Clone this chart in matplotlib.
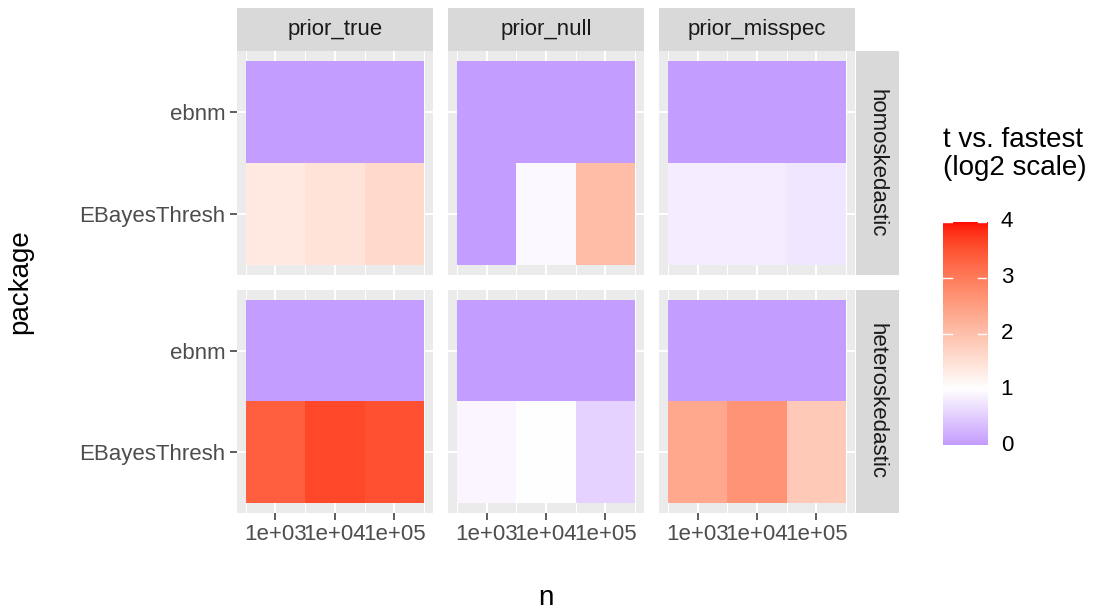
import numpy as np
import matplotlib
matplotlib.use("Agg")
import matplotlib.pyplot as plt
from matplotlib.colors import ListedColormap, Normalize, to_rgb

# ---------------- data ----------------
priors = ["prior_true", "prior_null", "prior_misspec"]
noise_types = ["homoskedastic", "heteroskedastic"]
packages = ["EBayesThresh", "ebnm"]          # bottom to top
n_log10 = [3, 4, 5]
n_labels = ["1e+03", "1e+04", "1e+05"]

# t vs. fastest (log2 scale), one list per facet, order by n
ebnm_homo_true = [0.0, 0.0, 0.0]
ebnm_homo_null = [0.0, 0.0, 0.0]
ebnm_homo_misspec = [0.0, 0.0, 0.0]
ebnm_hetero_true = [0.0, 0.0, 0.0]
ebnm_hetero_null = [0.0, 0.0, 0.0]
ebnm_hetero_misspec = [0.0, 0.0, 0.0]

ebt_homo_true = [1.35, 1.45, 1.6]
ebt_homo_null = [0.0, 0.93, 2.05]
ebt_homo_misspec = [0.82, 0.80, 0.75]
ebt_hetero_true = [3.35, 3.6, 3.5]
ebt_hetero_null = [0.9, 0.99, 0.55]
ebt_hetero_misspec = [2.35, 2.65, 1.85]

legend_ticks = [0, 1, 2, 3, 4]

facet_data = {
    ("homoskedastic", "prior_true"): (ebt_homo_true, ebnm_homo_true),
    ("homoskedastic", "prior_null"): (ebt_homo_null, ebnm_homo_null),
    ("homoskedastic", "prior_misspec"): (ebt_homo_misspec, ebnm_homo_misspec),
    ("heteroskedastic", "prior_true"): (ebt_hetero_true, ebnm_hetero_true),
    ("heteroskedastic", "prior_null"): (ebt_hetero_null, ebnm_hetero_null),
    ("heteroskedastic", "prior_misspec"): (ebt_hetero_misspec, ebnm_hetero_misspec),
}

# ---------------- colour scale (Lab interpolation like ggplot) ----------------
def srgb_to_lab(rgb):
    rgb = np.asarray(rgb, float)
    lin = np.where(rgb <= 0.04045, rgb / 12.92, ((rgb + 0.055) / 1.055) ** 2.4)
    M = np.array([[0.4124564, 0.3575761, 0.1804375],
                  [0.2126729, 0.7151522, 0.0721750],
                  [0.0193339, 0.1191920, 0.9503041]])
    xyz = lin @ M.T
    wp = np.array([0.95047, 1.0, 1.08883])
    t = xyz / wp
    f = np.where(t > (6 / 29) ** 3, np.cbrt(t), t / (3 * (6 / 29) ** 2) + 4 / 29)
    L = 116 * f[..., 1] - 16
    a = 500 * (f[..., 0] - f[..., 1])
    b = 200 * (f[..., 1] - f[..., 2])
    return np.stack([L, a, b], -1)

def lab_to_srgb(lab):
    lab = np.asarray(lab, float)
    fy = (lab[..., 0] + 16) / 116
    fx = fy + lab[..., 1] / 500
    fz = fy - lab[..., 2] / 200
    f = np.stack([fx, fy, fz], -1)
    d = 6 / 29
    t = np.where(f > d, f ** 3, 3 * d * d * (f - 4 / 29))
    xyz = t * np.array([0.95047, 1.0, 1.08883])
    Minv = np.array([[3.2404542, -1.5371385, -0.4985314],
                     [-0.9692660, 1.8760108, 0.0415560],
                     [0.0556434, -0.2040259, 1.0572252]])
    lin = xyz @ Minv.T
    lin = np.clip(lin, 0, 1)
    rgb = np.where(lin <= 0.0031308, 12.92 * lin, 1.055 * lin ** (1 / 2.4) - 0.055)
    return np.clip(rgb, 0, 1)

vmin, vmid, vmax = 0.0, 1.0, 4.0
c_low = srgb_to_lab(to_rgb("#C39DFF"))
c_mid = srgb_to_lab(to_rgb("#FFFFFF"))
c_high = srgb_to_lab(to_rgb("#FF0000"))
vals = np.linspace(vmin, vmax, 512)
labs = []
for v in vals:
    if v <= vmid:
        t = (v - vmin) / (vmid - vmin)
        labs.append(c_low + (c_mid - c_low) * t)
    else:
        t = (v - vmid) / (vmax - vmid)
        labs.append(c_mid + (c_high - c_mid) * t)
cmap = ListedColormap(lab_to_srgb(np.array(labs)))
norm = Normalize(vmin=vmin, vmax=vmax)

# ---------------- layout ----------------
W, H = 1097, 613
fig = plt.figure(figsize=(W / 100, H / 100), dpi=100)
fig.patch.set_facecolor("white")
plt.rcParams["font.family"] = ["Liberation Sans", "DejaVu Sans"]

def rect(x0, y0, x1, y1):
    return [x0 / W, 1 - y1 / H, (x1 - x0) / W, (y1 - y0) / H]

col_x = [(236.7, 433), (448, 644), (659, 855)]
row_y = [(51, 275), (290, 513)]
strip_top = (8, 51)
strip_right = (855.5, 899)

tick_col = "#333333"
for r, noise in enumerate(noise_types):
    for c, prior in enumerate(priors):
        x0, x1 = col_x[c]
        y0, y1 = row_y[r]
        ax = fig.add_axes(rect(x0, y0, x1, y1))
        ax.set_facecolor("#EBEBEB")
        ebt, eb = facet_data[(noise, prior)]
        Z = np.array([ebt, eb])
        xe = np.array(n_log10, float)
        xedges = np.concatenate([xe - 0.5, [xe[-1] + 0.5]])
        yedges = np.arange(len(packages) + 1) + 0.5
        ax.pcolormesh(xedges, yedges, Z, cmap=cmap, norm=norm, zorder=2,
                      edgecolors="face", linewidth=0)
        for xv in [2.5, 3.5, 4.5, 5.5]:
            ax.axvline(xv, color="white", lw=0.75, zorder=1)
        for xv in n_log10:
            ax.axvline(xv, color="white", lw=1.5, zorder=1)
        for yv in [1, 2]:
            ax.axhline(yv, color="white", lw=1.5, zorder=1)
        ax.set_xlim(2.35, 5.65)
        ax.set_ylim(0.4, 2.6)
        for s in ax.spines.values():
            s.set_visible(False)
        ax.set_xticks(n_log10)
        ax.set_yticks([1, 2])
        if r == len(noise_types) - 1:
            ax.set_xticklabels(n_labels, fontsize=16, color="#4D4D4D")
            ax.tick_params(axis="x", length=5, width=1.1, color=tick_col, pad=3)
        else:
            ax.set_xticklabels([])
            ax.tick_params(axis="x", length=0)
        if c == 0:
            ax.set_yticklabels(packages, fontsize=16, color="#4D4D4D")
            ax.tick_params(axis="y", length=5, width=1.1, color=tick_col, pad=3)
        else:
            ax.set_yticklabels([])
            ax.tick_params(axis="y", length=0)

        if r == 0:
            sax = fig.add_axes(rect(x0, strip_top[0], x1, strip_top[1]))
            sax.set_facecolor("#D9D9D9")
            sax.set_xticks([]); sax.set_yticks([])
            for s in sax.spines.values():
                s.set_visible(False)
            sax.text(0.5, 0.5, prior, ha="center", va="center", fontsize=16,
                     color="#1A1A1A", transform=sax.transAxes)
    y0, y1 = row_y[r]
    sax = fig.add_axes(rect(strip_right[0], y0, strip_right[1], y1))
    sax.set_facecolor("#D9D9D9")
    sax.set_xticks([]); sax.set_yticks([])
    for s in sax.spines.values():
        s.set_visible(False)
    sax.text(0.5, 0.5, noise, ha="center", va="center", fontsize=16,
             color="#1A1A1A", rotation=-90, transform=sax.transAxes)

# axis titles
fig.text(546 / W, 1 - 598 / H, "n", ha="center", va="center", fontsize=20)
fig.text(20 / W, 1 - 282 / H, "package", ha="center", va="center",
         fontsize=20, rotation=90)

# legend
fig.text(943 / W, 1 - 140 / H, "t vs. fastest", ha="left", va="center",
         fontsize=20)
fig.text(943 / W, 1 - 168 / H, "(log2 scale)", ha="left", va="center",
         fontsize=20)
cax = fig.add_axes(rect(942.7, 221.5, 987.3, 445.5))
grad = np.linspace(vmin, vmax, 300).reshape(-1, 1)
cax.imshow(grad, cmap=cmap, norm=norm, aspect="auto", origin="lower",
           extent=(0, 1, vmin, vmax))
for tv in legend_ticks:
    cax.plot([0, 0.2], [tv, tv], color="white", lw=1.0, clip_on=True)
    cax.plot([0.8, 1], [tv, tv], color="white", lw=1.0, clip_on=True)
    cax.text(1.3, tv, str(tv), ha="left", va="center", fontsize=16,
             color="black", clip_on=False)
cax.set_xlim(0, 1)
cax.set_ylim(vmin, vmax)
for s in cax.spines.values():
    s.set_visible(False)
cax.set_xticks([])
cax.set_yticks([])

fig.savefig("out.png", dpi=100, facecolor="white")
